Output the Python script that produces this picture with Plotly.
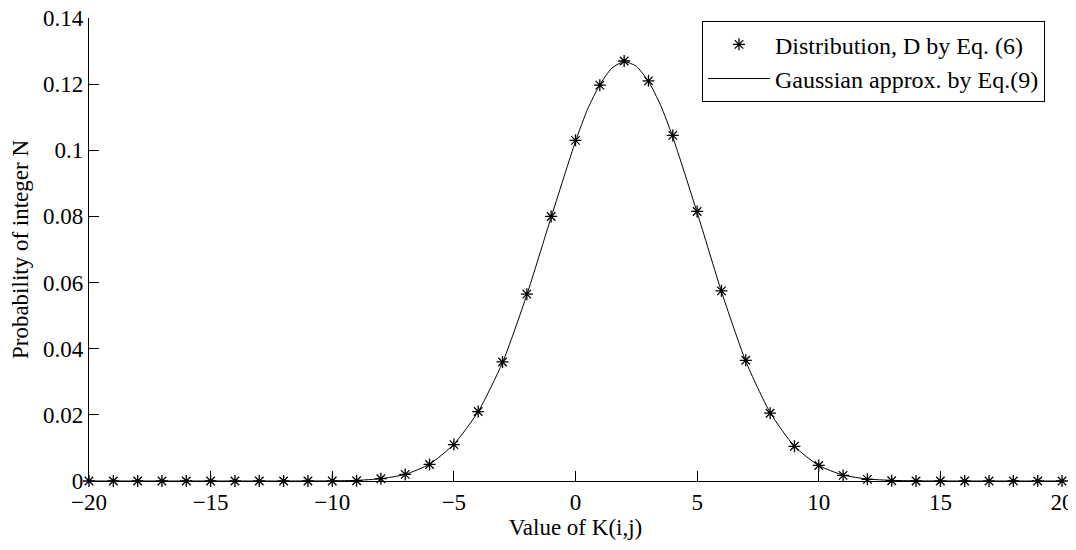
import plotly.graph_objects as go

# Data
k_values = list(range(-20, 21))
dist_values = [0.0, 0.0, 0.0, 0.0, 0.0, 0.0, 0.0, 0.0, 0.0, 0.0,
               0.0, 0.0001, 0.0007, 0.002, 0.005, 0.011, 0.021, 0.036, 0.0565, 0.080,
               0.103, 0.1197, 0.127, 0.121, 0.1045, 0.0815, 0.0575, 0.0365, 0.0205, 0.0105,
               0.0047, 0.0017, 0.0005, 0.0001, 0.0, 0.0, 0.0, 0.0, 0.0, 0.0, 0.0]
gauss_x = [-20, -15, -12, -10, -9, -8, -7, -6, -5, -4, -3, -2, -1, 0, 0.5, 1, 1.5, 2, 2.5, 3, 3.5, 4,
           5, 6, 7, 8, 9, 10, 11, 12, 13, 14, 16, 20]
gauss_y = [0.0, 0.0, 0.0, 0.00005, 0.0002, 0.0007, 0.002, 0.0051, 0.0111, 0.021, 0.0358, 0.0563, 0.0798,
           0.1027, 0.1125, 0.1198, 0.1249, 0.1268, 0.1254, 0.1208, 0.1136, 0.1040,
           0.0812, 0.0573, 0.0362, 0.0207, 0.0105, 0.0047, 0.0018, 0.0006, 0.0002, 0.00005, 0.0, 0.0]
x_ticks = [-20, -15, -10, -5, 0, 5, 10, 15, 20]
y_ticks = [0, 0.02, 0.04, 0.06, 0.08, 0.1, 0.12, 0.14]
y_tick_labels = ["0", "0.02", "0.04", "0.06", "0.08", "0.1", "0.12", "0.14"]

FONT = "Liberation Serif"

fig = go.Figure()
fig.add_trace(go.Scatter(
    x=k_values, y=dist_values, mode="markers", name="Distribution, D by Eq. (6)",
    marker=dict(symbol="asterisk-open", size=10, color="black",
                line=dict(color="black", width=1.3)),
    cliponaxis=False,
))
fig.add_trace(go.Scatter(
    x=gauss_x, y=gauss_y, mode="lines", name="Gaussian approx. by Eq.(9)",
    line=dict(color="black", width=1, shape="spline", smoothing=0.6),
    cliponaxis=False,
))

# the page body adds an 8px margin, so the figure is sized to fit the window
fig.update_layout(
    width=1068, height=534,
    margin=dict(l=81, r=14, t=10, b=61),
    paper_bgcolor="white", plot_bgcolor="white",
    font=dict(family=FONT, size=23, color="black"),
    legend=dict(x=0.630, y=0.993, xanchor="left", yanchor="top",
                bordercolor="black", borderwidth=1, bgcolor="white",
                font=dict(family=FONT, size=24, color="black"),
                tracegroupgap=0, itemwidth=62),
    xaxis=dict(range=[-20, 20], tickvals=x_ticks, ticks="inside", ticklen=10,
               tickcolor="black", showline=True, linecolor="black", linewidth=1.3,
               showgrid=False, zeroline=False, automargin=False,
               ticklabeloverflow="allow",
               title=dict(text="Value of K(i,j)", standoff=2, font=dict(size=23)),
               tickfont=dict(family=FONT, size=23)),
    yaxis=dict(range=[0, 0.14], tickvals=y_ticks, ticktext=y_tick_labels, ticks="inside",
               ticklen=10, tickcolor="black", showline=True, linecolor="black",
               linewidth=1.3, showgrid=False, zeroline=False, automargin=False,
               ticklabeloverflow="allow",
               title=dict(text="Probability of integer N", standoff=8, font=dict(size=23)),
               tickfont=dict(family=FONT, size=23)),
)

fig.write_html("out.html")
